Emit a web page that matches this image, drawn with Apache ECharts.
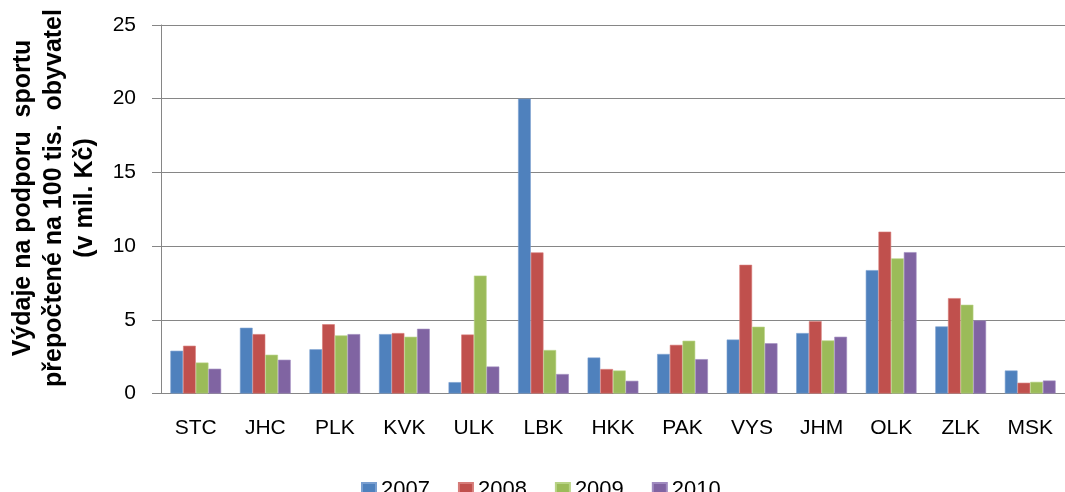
<!DOCTYPE html>
<html lang="cs">
<head>
    <meta charset="UTF-8">
    <title>Výdaje na podporu sportu</title>
    <style>
        *{
            margin: 0;
            padding: 0;
        }
        body{
            background: #fff;
        }
    </style>
</head>
<body>
<div id="main" style="width: 1065px;height: 492px;"></div>
<script src="https://cdn.jsdelivr.net/npm/echarts@6/dist/echarts.min.js"></script>
<script type="text/javascript">
    // kraje
    var regions = ['STC', 'JHC', 'PLK', 'KVK', 'ULK', 'LBK', 'HKK', 'PAK', 'VYS', 'JHM', 'OLK', 'ZLK', 'MSK'];
    var years = ['2007', '2008', '2009', '2010'];
    var data2007 = [2.9, 4.46, 3.0, 4.03, 0.77, 20.0, 2.44, 2.68, 3.66, 4.1, 8.37, 4.55, 1.56];
    var data2008 = [3.24, 4.03, 4.7, 4.1, 4.0, 9.57, 1.66, 3.3, 8.73, 4.91, 10.98, 6.47, 0.73];
    var data2009 = [2.1, 2.63, 3.94, 3.85, 8.0, 2.95, 1.56, 3.58, 4.53, 3.6, 9.17, 6.02, 0.79];
    var data2010 = [1.68, 2.29, 4.03, 4.39, 1.83, 1.32, 0.86, 2.33, 3.41, 3.85, 9.59, 4.96, 0.88];
    var yTicks = [0, 5, 10, 15, 20, 25];

    var colors = ['#4f81bd', '#c0504d', '#9bbb59', '#8064a2'];
    var borders = ['#7a9fd0', '#d67c79', '#b8d386', '#a08bc0'];
    var allData = [data2007, data2008, data2009, data2010];

    var myChart = echarts.init(document.getElementById('main'));

    var series = [];
    for (var i = 0; i < years.length; i++) {
        series.push({
            name: years[i],
            type: 'bar',
            barGap: '0%',
            barCategoryGap: '27%',
            itemStyle: {
                color: colors[i],
                borderColor: borders[i],
                borderWidth: 0.6
            },
            data: allData[i]
        });
    }

    myChart.setOption({
        animation: false,
        textStyle: {
            fontFamily: 'Liberation Sans'
        },
        // popisek osy y
        graphic: [{
            type: 'text',
            x: 54,
            y: 198,
            rotation: Math.PI / 2,
            style: {
                text: 'Výdaje na podporu  sportu\npřepočtené na 100 tis.  obyvatel\n(v mil. Kč)',
                font: 'bold 25px "Liberation Sans"',
                lineHeight: 31,
                align: 'center',
                verticalAlign: 'middle',
                fill: '#000'
            }
        }],
        legend: {
            data: years,
            left: 356,
            top: 474,
            itemWidth: 14,
            itemHeight: 14,
            itemGap: 28,
            icon: 'rect',
            textStyle: {
                fontSize: 22,
                color: '#000'
            }
        },
        grid: {
            left: 161,
            top: 25,
            width: 914,
            height: 368.5,
            containLabel: false
        },
        xAxis: {
            type: 'category',
            data: regions,
            axisLine: {
                lineStyle: {color: '#868686', width: 1}
            },
            axisTick: {
                length: 10,
                lineStyle: {color: '#868686'}
            },
            axisLabel: {
                margin: 24,
                fontSize: 21,
                color: '#000',
                interval: 0
            }
        },
        yAxis: {
            type: 'value',
            min: yTicks[0],
            max: yTicks[yTicks.length - 1],
            interval: 5,
            axisLine: {
                show: true,
                lineStyle: {color: '#868686', width: 1}
            },
            axisTick: {
                show: true,
                length: 9,
                lineStyle: {color: '#868686'}
            },
            splitLine: {
                lineStyle: {color: '#868686', width: 1}
            },
            axisLabel: {
                margin: 25,
                fontSize: 21,
                color: '#000'
            }
        },
        series: series
    });
</script>
</body>
</html>
